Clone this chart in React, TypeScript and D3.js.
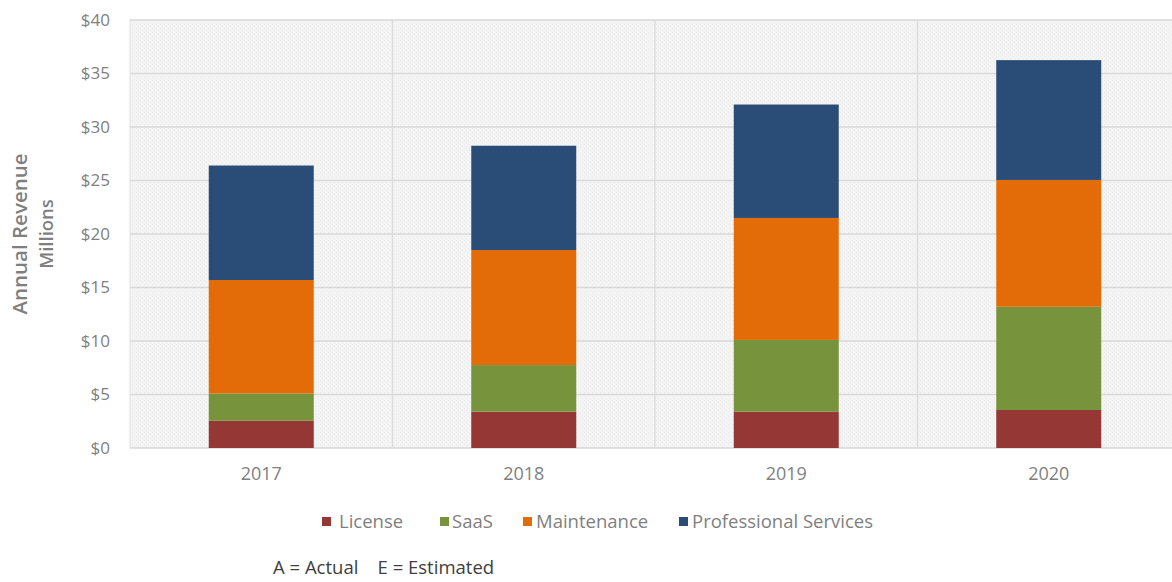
import React from "react";
import * as d3 from "d3";

const years = ["2017", "2018", "2019", "2020"];
const seriesNames = ["License", "SaaS", "Maintenance", "Professional Services"];
const license = [2.55, 3.4, 3.4, 3.55];
const saas = [2.55, 4.35, 6.7, 9.65];
const maintenance = [10.6, 10.75, 11.4, 11.85];
const professionalServices = [10.7, 9.75, 10.6, 11.2];
const yTicks = [0, 5, 10, 15, 20, 25, 30, 35, 40];
const colors = ["#953735", "#77933C", "#E36C09", "#2A4D78"];

const W = 1172;
const H = 582;
const M = { left: 130, right: -8, top: 20, bottom: 134 };

export default function App() {
  const x = d3
    .scaleBand<string>()
    .domain(years)
    .range([M.left, W - M.right])
    .paddingInner(0.6)
    .paddingOuter(0.3);
  const y = d3.scaleLinear().domain([0, 40]).range([H - M.bottom, M.top]);

  const rows = years.map((yr, i) => ({
    year: yr,
    License: license[i],
    SaaS: saas[i],
    Maintenance: maintenance[i],
    "Professional Services": professionalServices[i],
  }));
  const stacked = d3.stack<any>().keys(seriesNames)(rows);
  const step = x.step();
  const plotLeft = M.left;
  const plotRight = W - M.right;
  const font = "'Open Sans', 'DejaVu Sans', sans-serif";

  const legendItems = [
    { name: "License", sx: 322, tx: 339 },
    { name: "SaaS", sx: 440, tx: 452 },
    { name: "Maintenance", sx: 523, tx: 536 },
    { name: "Professional Services", sx: 679, tx: 692 },
  ];

  return (
    <svg
      width={W}
      height={H}
      style={{ position: "absolute", left: 0, top: 0, background: "#fff" }}
      fontFamily={font}
    >
      <defs>
        <pattern id="dots" width="4" height="4" patternUnits="userSpaceOnUse">
          <rect width="4" height="4" fill="#f4f4f4" />
          <rect x="0" y="0" width="1" height="1" fill="#eaeaea" />
          <rect x="2" y="2" width="1" height="1" fill="#eaeaea" />
        </pattern>
      </defs>
      <rect
        x={plotLeft}
        y={M.top}
        width={plotRight - plotLeft}
        height={y(0) - M.top}
        fill="url(#dots)"
      />
      {yTicks.map((t) => (
        <line
          key={"g" + t}
          x1={plotLeft}
          x2={plotRight}
          y1={y(t)}
          y2={y(t)}
          stroke="#d9d9d9"
          strokeWidth={1.3}
        />
      ))}
      {years.slice(1).map((yr) => (
        <line
          key={"v" + yr}
          x1={(x(yr) as number) - (step - x.bandwidth()) / 2}
          x2={(x(yr) as number) - (step - x.bandwidth()) / 2}
          y1={M.top}
          y2={y(0)}
          stroke="#dcdcdc"
          strokeWidth={1.3}
        />
      ))}
      <line x1={plotLeft} x2={plotLeft} y1={M.top} y2={y(0)} stroke="#e0e0e0" />
      {stacked.map((s, si) =>
        s.map((d, i) => (
          <rect
            key={si + "-" + i}
            x={x(years[i])}
            width={x.bandwidth()}
            y={y(d[1])}
            height={y(d[0]) - y(d[1])}
            fill={colors[si]}
          />
        ))
      )}
      {yTicks.map((t) => (
        <text
          key={"t" + t}
          x={110}
          y={y(t)}
          dy="0.35em"
          textAnchor="end"
          fontSize={17}
          fill="#7f7f7f"
        >
          {"$" + t}
        </text>
      ))}
      {years.map((yr) => (
        <text
          key={"x" + yr}
          x={(x(yr) as number) + x.bandwidth() / 2}
          y={474}
          dy="0.35em"
          textAnchor="middle"
          fontSize={18}
          fill="#7f7f7f"
        >
          {yr}
        </text>
      ))}
      <text
        transform={`translate(20,${(M.top + y(0)) / 2}) rotate(-90)`}
        textAnchor="middle"
        dy="0.35em"
        fontSize={20.5}
        fontWeight={600}
        fill="#7f7f7f"
      >
        Annual Revenue
      </text>
      <text
        transform={`translate(47,${(M.top + y(0)) / 2}) rotate(-90)`}
        textAnchor="middle"
        dy="0.35em"
        fontSize={18.5}
        fontWeight={600}
        fill="#7f7f7f"
      >
        Millions
      </text>
      {legendItems.map((l, i) => (
        <g key={l.name}>
          <rect x={l.sx} y={517} width={9} height={9} fill={colors[i]} />
          <text x={l.tx} y={522} dy="0.35em" fontSize={18.5} fill="#7f7f7f">
            {seriesNames[i]}
          </text>
        </g>
      ))}
      <text x={273} y={568} dy="0.35em" fontSize={18.5} fill="#404040" xmlSpace="preserve">
        {"A = Actual    E = Estimated"}
      </text>
    </svg>
  );
}
